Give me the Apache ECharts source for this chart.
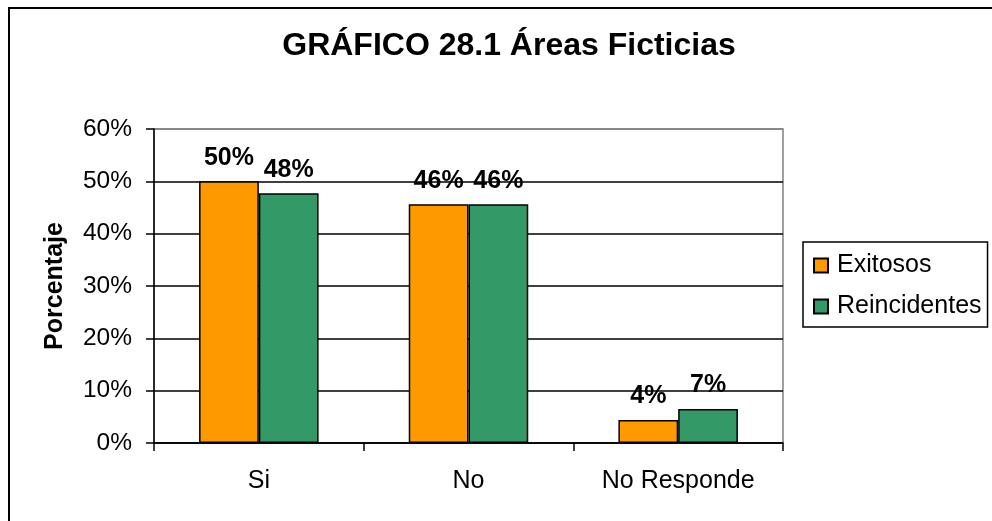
<!DOCTYPE html>
<html>
<head>
<meta charset="utf-8">
<script src="https://cdn.jsdelivr.net/npm/echarts@6/dist/echarts.min.js"></script>
<style>
  html, body { margin: 0; padding: 0; background: #fff; }
  #chart { width: 992px; height: 521px; }
</style>
</head>
<body>
<div id="chart"></div>
<script>
// datos
const categories = ['Si', 'No', 'No Responde']
const exitosos = [50, 45.6, 4.4]
const reincidentes = [47.7, 45.6, 6.5]
const yTicks = [0, 10, 20, 30, 40, 50, 60]

const font = 'Arial, "Liberation Sans", sans-serif'
const chartInstance = echarts.init(document.getElementById('chart'))

const barLabel = {
  show: true,
  position: 'top',
  distance: 11,
  fontFamily: font,
  fontSize: 25,
  fontWeight: 'bold',
  color: '#000',
  formatter: (p) => Math.round(p.value) + '%'
}

const option = {
  backgroundColor: '#fff',
  animation: false,
  title: {
    text: 'GRÁFICO 28.1 Áreas Ficticias',
    left: 509,
    textAlign: 'center',
    top: 30,
    padding: 0,
    textStyle: { fontFamily: font, fontSize: 32, fontWeight: 'bold', color: '#000' }
  },
  legend: {
    orient: 'vertical',
    left: 803,
    top: 242,
    padding: [11, 6, 8, 10],
    itemGap: 16,
    itemWidth: 14,
    itemHeight: 14,
    borderColor: '#000',
    borderWidth: 1.5,
    icon: 'rect',
    textStyle: { fontFamily: font, fontSize: 25, color: '#000', padding: [0, 0, 0, 4] },
    data: ['Exitosos', 'Reincidentes']
  },
  graphic: [
    {
      type: 'rect',
      shape: { x: 9, y: 8, width: 1000, height: 600 },
      style: { fill: 'none', stroke: '#000', lineWidth: 2 },
      silent: true
    }
  ],
  grid: {
    left: 154,
    top: 129,
    right: 209,
    bottom: 78,
    show: true,
    borderColor: '#808080',
    borderWidth: 1.5
  },
  xAxis: {
    type: 'category',
    data: categories,
    boundaryGap: true,
    axisLine: { lineStyle: { color: '#000', width: 1.5 } },
    axisTick: { show: true, interval: 0, length: 8, lineStyle: { color: '#000', width: 1.5 } },
    axisLabel: { margin: 26, fontFamily: font, fontSize: 25, color: '#000' }
  },
  yAxis: {
    type: 'value',
    min: yTicks[0],
    max: yTicks[yTicks.length - 1],
    interval: 10,
    name: 'Porcentaje',
    nameLocation: 'middle',
    nameGap: 86,
    nameTextStyle: { fontFamily: font, fontSize: 25, fontWeight: 'bold', color: '#000' },
    axisLine: { show: true, lineStyle: { color: '#000', width: 1.5 } },
    axisTick: { show: true, inside: false, length: 8, lineStyle: { color: '#000', width: 1.5 } },
    axisLabel: { margin: 22, fontFamily: font, fontSize: 24.5, color: '#000', formatter: '{value}%' },
    splitLine: {
      show: true,
      lineStyle: { color: ['#000', '#000', '#000', '#000', '#000', '#000', '#808080'], width: 1.5 }
    }
  },
  series: [
    {
      name: 'Exitosos',
      type: 'bar',
      data: exitosos,
      barGap: '0%',
      barCategoryGap: '43%',
      itemStyle: { color: '#FF9900', borderColor: '#000', borderWidth: 1.5 },
      label: barLabel
    },
    {
      name: 'Reincidentes',
      type: 'bar',
      data: reincidentes,
      itemStyle: { color: '#339966', borderColor: '#000', borderWidth: 1.5 },
      label: barLabel
    }
  ]
}

chartInstance.setOption(option)
</script>
</body>
</html>
